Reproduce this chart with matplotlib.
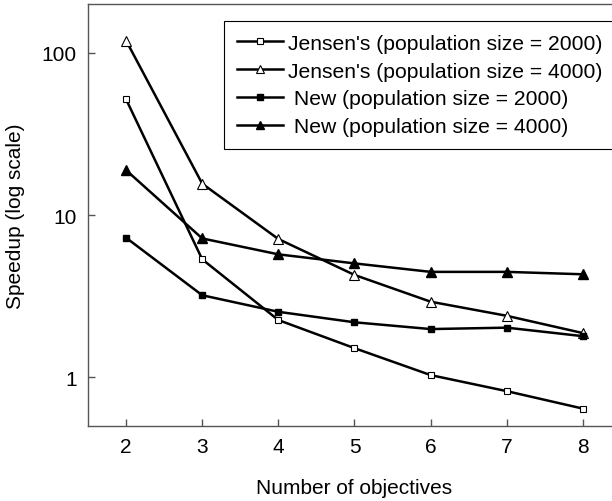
import matplotlib
matplotlib.use("Agg")
import matplotlib.pyplot as plt
from matplotlib.ticker import FixedLocator, NullLocator

plt.rcParams['font.family'] = ['Liberation Sans', 'DejaVu Sans']

objectives = [2, 3, 4, 5, 6, 7, 8]
jensen_2000 = [51.7, 5.33, 2.25, 1.51, 1.03, 0.82, 0.64]
jensen_4000 = [119, 15.6, 7.11, 4.27, 2.92, 2.39, 1.87]
new_2000 = [7.24, 3.20, 2.53, 2.18, 1.98, 2.02, 1.79]
new_4000 = [18.9, 7.17, 5.72, 5.03, 4.46, 4.46, 4.31]

labels = ["Jensen's (population size = 2000)",
          "Jensen's (population size = 4000)",
          " New (population size = 2000)",
          " New (population size = 4000)"]

fig = plt.figure(figsize=(6.12, 5.02), dpi=100)
ax = fig.add_axes([88 / 612, 75 / 502, 533 / 612, 422 / 502])

ax.plot(objectives, jensen_2000, color='black', lw=1.8, marker='s', ms=5,
        mfc='white', mec='black', mew=0.8, label=labels[0])
ax.plot(objectives, jensen_4000, color='black', lw=1.8, marker='^', ms=7.5,
        mfc='white', mec='black', mew=0.8, label=labels[1])
ax.plot(objectives, new_2000, color='black', lw=1.8, marker='s', ms=5,
        mfc='black', mec='black', label=labels[2])
ax.plot(objectives, new_4000, color='black', lw=1.8, marker='^', ms=6.5,
        mfc='black', mec='black', label=labels[3])

ax.set_yscale('log')
ax.set_ylim(0.5, 200)
ax.set_xlim(1.5, 8.5)
ax.yaxis.set_major_locator(FixedLocator([1, 10, 100]))
ax.yaxis.set_minor_locator(NullLocator())
ax.set_yticklabels(['1', '10', '100'])
ax.set_xticks(objectives)

for s in ax.spines.values():
    s.set_color('#555555')
    s.set_linewidth(1.0)
ax.tick_params(direction='in', length=5, width=1, color='#555555',
               labelsize=15, pad=8)

ax.set_xlabel('Number of objectives', fontsize=15, labelpad=16)
ax.set_ylabel('Speedup (log scale)', fontsize=15, labelpad=12)

# legend box sits at a fixed spot in the figure
leg = ax.legend(loc='upper left', bbox_to_anchor=(224 / 612, 1 - 22 / 502),
                bbox_transform=fig.transFigure, fontsize=15.2, fancybox=False,
                edgecolor='black', framealpha=1, handlelength=2.2,
                handletextpad=0.25, borderpad=0.6, labelspacing=0.42,
                markerscale=0.8, borderaxespad=0)
leg.get_frame().set_linewidth(0.8)

fig.savefig('out.png', dpi=100)
